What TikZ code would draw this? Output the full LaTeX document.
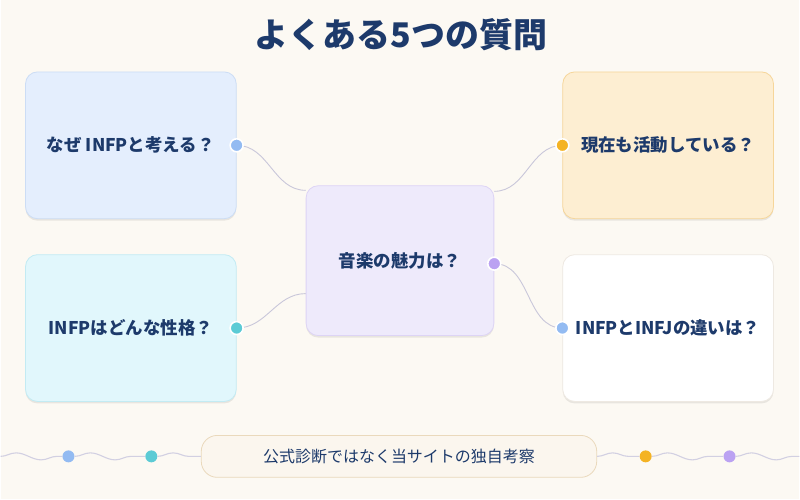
\documentclass[tikz,border=0pt]{standalone}
\usepackage{fontspec}
\setmainfont{Noto Sans CJK JP}
\usetikzlibrary{shadows,decorations.pathmorphing}

\definecolor{fondo}{HTML}{FCF9F3}
\definecolor{azul}{HTML}{1D3A6B}
\definecolor{linea}{HTML}{C9C7DA}
\definecolor{onda}{HTML}{D2D0E2}
\definecolor{celeste}{HTML}{E4EEFD}
\definecolor{celesteb}{HTML}{CCDDF5}
\definecolor{cian}{HTML}{E1F7FC}
\definecolor{cianb}{HTML}{C3EBF3}
\definecolor{lila}{HTML}{EEEAFB}
\definecolor{lilab}{HTML}{DDD4F5}
\definecolor{crema}{HTML}{FDEED2}
\definecolor{cremab}{HTML}{F6D69A}
\definecolor{blancob}{HTML}{EEE9E2}
\definecolor{pie}{HTML}{FBF6EE}
\definecolor{pieb}{HTML}{EAD9BC}
\definecolor{pazul}{HTML}{93BBF2}
\definecolor{pcian}{HTML}{5CCBD5}
\definecolor{pambar}{HTML}{F4B324}
\definecolor{plila}{HTML}{BBA2F2}

\begin{document}
\begin{tikzpicture}[x=1pt,y=-1pt,
    caja/.style={rounded corners=12pt,minimum width=211pt,minimum height=147pt,
      line width=0.8pt,text=azul,font=\bfseries\fontsize{17.5}{20}\selectfont,
      drop shadow={shadow xshift=0pt,shadow yshift=-2pt,opacity=0.08,fill=black}},
    punto/.style={circle,inner sep=0pt,minimum size=13pt,draw=white,line width=1.6pt},
    bolita/.style={circle,inner sep=0pt,minimum size=12pt},
    conector/.style={draw=linea,line width=0.9pt},
    ondas/.style={draw=onda,line width=1.1pt,decorate,
      decoration={snake,segment length=50pt,amplitude=3.5pt}}]

    \fill[fondo] (0,0) rectangle (800,500);

    \node[text=azul,font=\bfseries\fontsize{34}{38}\selectfont] (titulo) at (401,35) {よくある5つの質問};

    % Cajas
    \node[caja,fill=celeste,draw=celesteb] (p1) at (130.5,145.5) {なぜ INFPと考える？};
    \node[caja,fill=cian,draw=cianb] (p2) at (130.5,328.5) {INFPはどんな性格？};
    \node[caja,fill=lila,draw=lilab,minimum width=188pt,minimum height=150pt] (c) at (400,261) {音楽の魅力は？};
    \node[caja,fill=crema,draw=cremab] (p3) at (668.5,145.5) {現在も活動している？};
    \node[caja,fill=white,draw=blancob] (p4) at (668.5,328.5) {INFPとINFJの違いは？};

    \coordinate (a1) at (p1.east);
    \coordinate (a2) at (p2.east);
    \coordinate (a3) at (p3.west);
    \coordinate (a4) at (p4.west);
    \coordinate (c1) at ([yshift=-5pt]c.north west);
    \coordinate (c2) at ([yshift=-33pt]c.west);
    \coordinate (c3) at ([yshift=-6pt]c.north east);
    \coordinate (c4) at ([yshift=-3pt]c.east);

    % Conectores
    \draw[conector] (a1) to[out=0,in=180] (c1);
    \draw[conector] (a2) to[out=0,in=180] (c2);
    \draw[conector] (a3) to[out=180,in=0] (c3);
    \draw[conector] (c4) to[out=0,in=180] (a4);

    \node[punto,fill=pazul] (d1) at (a1) {};
    \node[punto,fill=pcian] (d2) at (a2) {};
    \node[punto,fill=pambar] (d3) at (a3) {};
    \node[punto,fill=pazul] (d4) at (a4) {};
    \node[punto,fill=plila] (d5) at (c4) {};

    % Pie
    \node[rounded corners=16pt,fill=pie,draw=pieb,line width=0.8pt,minimum width=396pt,
      minimum height=42pt,text=azul,font=\fontsize{16}{20}\selectfont] (nota) at (399,457)
      {公式診断ではなく当サイトの独自考察};

    \node[bolita,fill=pazul] (f1) at (68,457) {};
    \node[bolita,fill=pcian] (f2) at (151,457) {};
    \node[bolita,fill=pambar] (f3) at (646,457) {};
    \node[bolita,fill=plila] (f4) at (730,457) {};
    \coordinate (w0) at (0,457);
    \coordinate (w5) at (800,457);

    \draw[ondas] (w0) -- (f1);
    \draw[ondas] (f1) -- (f2);
    \draw[ondas] (f2) -- (nota);
    \draw[ondas] (nota) -- (f3);
    \draw[ondas] (f3) -- (f4);
    \draw[ondas] (f4) -- (w5);
\end{tikzpicture}
\end{document}
